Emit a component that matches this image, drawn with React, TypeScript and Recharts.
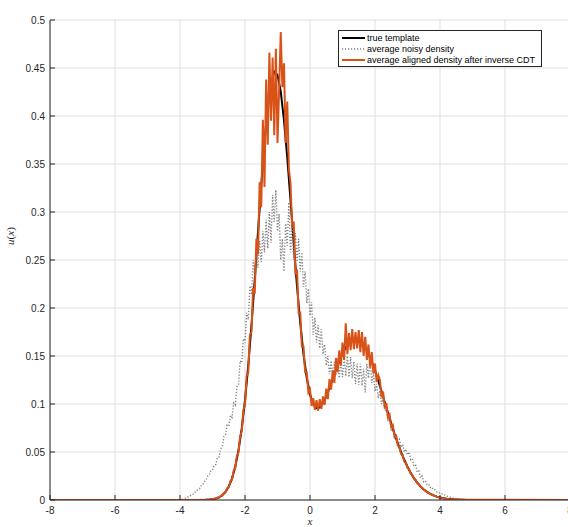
import { LineChart, Line, XAxis, YAxis, CartesianGrid, Legend, Label } from 'recharts';

// true template, sampled every 0.1 from x = -4
const templateStart = -4.0;
const templateStep = 0.1;
const templateU = [
  0, 0, 0, 0, 0, 0, 0.0001, 0.0001, 0.0002, 0.0004,
  0.0008, 0.0015, 0.0028, 0.0049, 0.0084, 0.014, 0.0223, 0.0346, 0.0517, 0.0745,
  0.1038, 0.14, 0.1823, 0.2294, 0.279, 0.3279, 0.3731, 0.409, 0.4336, 0.4462,
  0.4428, 0.4254, 0.3955, 0.3568, 0.3126, 0.2669, 0.2231, 0.1842, 0.152, 0.1272,
  0.11, 0.0999, 0.0957, 0.0965, 0.101, 0.108, 0.1167, 0.1261, 0.1355, 0.1445,
  0.1524, 0.159, 0.1639, 0.167, 0.168, 0.167, 0.1639, 0.159, 0.1522, 0.144,
  0.1345, 0.1242, 0.1132, 0.1019, 0.0906, 0.0796, 0.069, 0.0592, 0.0501, 0.0419,
  0.0346, 0.0282, 0.0227, 0.0181, 0.0142, 0.011, 0.0085, 0.0064, 0.0048, 0.0035,
  0.0026, 0.0019, 0.0013, 0.001, 0.0007, 0.0005, 0.0003, 0.0002, 0.0001, 0.0001,
  0,
];

// average of the noisy densities, every 0.05 from x = -4
const noisyStart = -4.0;
const noisyStep = 0.05;
const noisyU = [
  0, 0.0006, 0.001, 0.0017, 0.002, 0.0032, 0.004, 0.0055, 0.006, 0.008,
  0.0088, 0.011, 0.0118, 0.0148, 0.0156, 0.0192, 0.0205, 0.0248, 0.0262, 0.0305,
  0.0312, 0.036, 0.037, 0.044, 0.0445, 0.053, 0.056, 0.066, 0.068, 0.078,
  0.077, 0.088, 0.086, 0.101, 0.099, 0.118, 0.12, 0.145, 0.143, 0.168,
  0.164, 0.195, 0.188, 0.223, 0.214, 0.25, 0.233, 0.26, 0.242, 0.27,
  0.248, 0.28, 0.258, 0.292, 0.262, 0.3, 0.268, 0.318, 0.29, 0.323,
  0.28, 0.298, 0.25, 0.272, 0.238, 0.288, 0.265, 0.31, 0.258, 0.285,
  0.25, 0.278, 0.248, 0.272, 0.238, 0.258, 0.222, 0.238, 0.205, 0.22,
  0.192, 0.206, 0.172, 0.19, 0.164, 0.182, 0.158, 0.178, 0.152, 0.162,
  0.14, 0.15, 0.131, 0.145, 0.128, 0.144, 0.13, 0.147, 0.127, 0.144,
  0.128, 0.148, 0.129, 0.15, 0.128, 0.149, 0.127, 0.144, 0.121, 0.142,
  0.12, 0.142, 0.119, 0.137, 0.112, 0.142, 0.127, 0.15, 0.122, 0.132,
  0.113, 0.121, 0.106, 0.114, 0.1, 0.107, 0.093, 0.094, 0.083, 0.084,
  0.073, 0.075, 0.065, 0.068, 0.06, 0.063, 0.055, 0.058, 0.05, 0.053,
  0.047, 0.05, 0.042, 0.043, 0.035, 0.036, 0.029, 0.03, 0.023, 0.025,
  0.019, 0.02, 0.016, 0.0165, 0.013, 0.0135, 0.0105, 0.0106, 0.0085, 0.0085,
  0.0068, 0.0066, 0.0054, 0.0052, 0.0041, 0.0038, 0.003, 0.0028, 0.0021, 0.002,
  0.0015, 0.0013, 0.001, 0.0008, 0.0006, 0.0004, 0.0003,
];

// aligned average mapped back through the inverse CDT, every 0.05 from x = -3.5
const alignedStart = -3.5;
const alignedStep = 0.05;
const alignedU = [
  0, 0.0001, 0, 0.0002, 0.0001, 0.0003, 0.0002, 0.0005, 0.0003, 0.0008,
  0.0007, 0.0014, 0.0013, 0.0026, 0.0024, 0.0043, 0.0046, 0.0075, 0.0079, 0.0122,
  0.0131, 0.0198, 0.0212, 0.0305, 0.033, 0.0461, 0.0494, 0.0668, 0.0712, 0.0941,
  0.099, 0.129, 0.133, 0.172, 0.175, 0.221, 0.215, 0.272, 0.256, 0.331,
  0.305, 0.396, 0.326, 0.438, 0.37, 0.466, 0.395, 0.461, 0.38, 0.47,
  0.372, 0.428, 0.4875, 0.43, 0.455, 0.372, 0.415, 0.345, 0.33, 0.285,
  0.29, 0.235, 0.24, 0.195, 0.195, 0.16, 0.16, 0.133, 0.133, 0.112,
  0.115, 0.098, 0.106, 0.094, 0.104, 0.093, 0.105, 0.095, 0.108, 0.099,
  0.116, 0.105, 0.126, 0.115, 0.135, 0.122, 0.148, 0.133, 0.156, 0.14,
  0.164, 0.146, 0.184, 0.152, 0.174, 0.156, 0.178, 0.157, 0.175, 0.158,
  0.177, 0.154, 0.175, 0.15, 0.17, 0.146, 0.162, 0.138, 0.154, 0.132,
  0.142, 0.123, 0.13, 0.125, 0.107, 0.113, 0.096, 0.101, 0.086, 0.089,
  0.076, 0.078, 0.066, 0.067, 0.057, 0.056, 0.048, 0.047, 0.04, 0.039,
  0.0335, 0.032, 0.0272, 0.026, 0.022, 0.0208, 0.0175, 0.0164, 0.0138, 0.0128,
  0.0107, 0.0099, 0.0083, 0.0075, 0.0062, 0.0057, 0.0047, 0.0042, 0.0034, 0.0031,
  0.0025, 0.0022, 0.0018, 0.0016, 0.0013, 0.0011, 0.0009, 0.0008, 0.0007, 0.0006,
  0.0005,
];

const xTicks = [-8, -6, -4, -2, 0, 2, 4, 6, 8];
const uTicks = [0, 0.05, 0.1, 0.15, 0.2, 0.25, 0.3, 0.35, 0.4, 0.45, 0.5];

const AXIS = '#262626';
const FONT = '"Liberation Sans", Arial, Helvetica, sans-serif';
const MATH = '"Liberation Serif", "DejaVu Serif", serif';

// densities are zero outside the sampled window, pad out to the axis limits
const toPoints = (start: number, step: number, values: number[]) => [
  { x: -8, u: 0 },
  ...values.map((u, i) => ({ x: Math.round((start + i * step) * 100) / 100, u })),
  { x: 8, u: 0 },
];

const series = [
  { name: 'true template', data: toPoints(templateStart, templateStep, templateU), color: '#000000', width: 2, dash: undefined as string | undefined },
  { name: 'average noisy density', data: toPoints(noisyStart, noisyStep, noisyU), color: '#808080', width: 1.4, dash: '1.2 1.8' },
  { name: 'average aligned density after inverse CDT', data: toPoints(alignedStart, alignedStep, alignedU), color: '#D95319', width: 2, dash: undefined },
];

// matlab style: tick marks point into the axes
const BottomTick = ({ x, y, payload }: any) => (
  <g>
    <line x1={x} y1={y} x2={x} y2={y - 5} stroke={AXIS} />
    <text x={x} y={y + 14} textAnchor="middle" fontSize={10} fill={AXIS} fontFamily={FONT}>
      {payload.value}
    </text>
  </g>
);

const TopTick = ({ x, y }: any) => <line x1={x} y1={y} x2={x} y2={y + 5} stroke={AXIS} />;

const LeftTick = ({ x, y, payload }: any) => (
  <g>
    <line x1={x} y1={y} x2={x + 5} y2={y} stroke={AXIS} />
    <text x={x - 5} y={y + 3.5} textAnchor="end" fontSize={10} fill={AXIS} fontFamily={FONT}>
      {payload.value}
    </text>
  </g>
);

// legend rows follow the plotting order
const LegendBox = () => (
  <div style={{ border: `1px solid ${AXIS}`, background: '#fff', padding: '1px 0 1px 3px', fontFamily: FONT, fontSize: 9, color: '#000' }}>
    {series.map((s) => (
      <div key={s.name} style={{ display: 'flex', alignItems: 'center', height: 11, whiteSpace: 'nowrap' }}>
        <svg width={23} height={6} style={{ flex: 'none' }}>
          <line x1={0} y1={3} x2={23} y2={3} stroke={s.color} strokeWidth={s.width} strokeDasharray={s.dash} />
        </svg>
        <span style={{ marginLeft: 2 }}>{s.name}</span>
      </div>
    ))}
  </div>
);

export default function App() {
  return (
    <div style={{ position: 'absolute', left: 0, top: 0, width: 568, height: 527, overflow: 'hidden', background: '#fff' }}>
      <LineChart width={574} height={527} margin={{ top: 20, right: 4, bottom: 0, left: 0 }}>
        <CartesianGrid stroke="#dfdfdf" />
        <XAxis
          dataKey="x"
          type="number"
          domain={[-8, 8]}
          ticks={xTicks}
          interval={0}
          allowDataOverflow
          height={27}
          tickSize={0}
          tickMargin={0}
          tickLine={false}
          tick={<BottomTick />}
          axisLine={{ stroke: AXIS }}
        >
          <Label
            content={({ viewBox }: any) => (
              <text x={viewBox.x + viewBox.width / 2} y={viewBox.y + 25} textAnchor="middle" fontSize={11} fontStyle="italic" fontFamily={MATH} fill={AXIS}>
                x
              </text>
            )}
          />
        </XAxis>
        <XAxis
          xAxisId="top"
          orientation="top"
          dataKey="x"
          type="number"
          domain={[-8, 8]}
          ticks={xTicks}
          interval={0}
          height={0}
          tickSize={0}
          tickMargin={0}
          tickLine={false}
          tick={<TopTick />}
          axisLine={{ stroke: AXIS }}
        >
          <Label
            content={({ viewBox }: any) => (
              <text x={viewBox.x + viewBox.width / 2} y={viewBox.y - 5} textAnchor="middle" fontSize={11} fontWeight="bold" fontFamily={FONT} fill="#000">
                Physical-Space Recovery by Aligning Before Averaging
              </text>
            )}
          />
        </XAxis>
        <YAxis
          type="number"
          domain={[0, 0.5]}
          ticks={uTicks}
          interval={0}
          allowDataOverflow
          width={50}
          tickSize={0}
          tickMargin={0}
          tickLine={false}
          tick={<LeftTick />}
          axisLine={{ stroke: AXIS }}
        >
          <Label
            content={() => (
              <text x={14} y={236} transform="rotate(-90 14 236)" textAnchor="middle" fontSize={11} fontFamily={MATH} fill={AXIS}>
                <tspan fontStyle="italic">u</tspan>(<tspan fontStyle="italic">x</tspan>)
              </text>
            )}
          />
        </YAxis>
        <Legend
          layout="horizontal"
          verticalAlign="middle"
          align="center"
          content={<LegendBox />}
          wrapperStyle={{ position: 'absolute', left: 338, top: 30, width: 204, height: 'auto' }}
        />
        {series.map((s) => (
          <Line
            key={s.name}
            name={s.name}
            data={s.data}
            dataKey="u"
            type="linear"
            stroke={s.color}
            strokeWidth={s.width}
            strokeDasharray={s.dash}
            dot={false}
            activeDot={false}
            isAnimationActive={false}
          />
        ))}
      </LineChart>
    </div>
  );
}
